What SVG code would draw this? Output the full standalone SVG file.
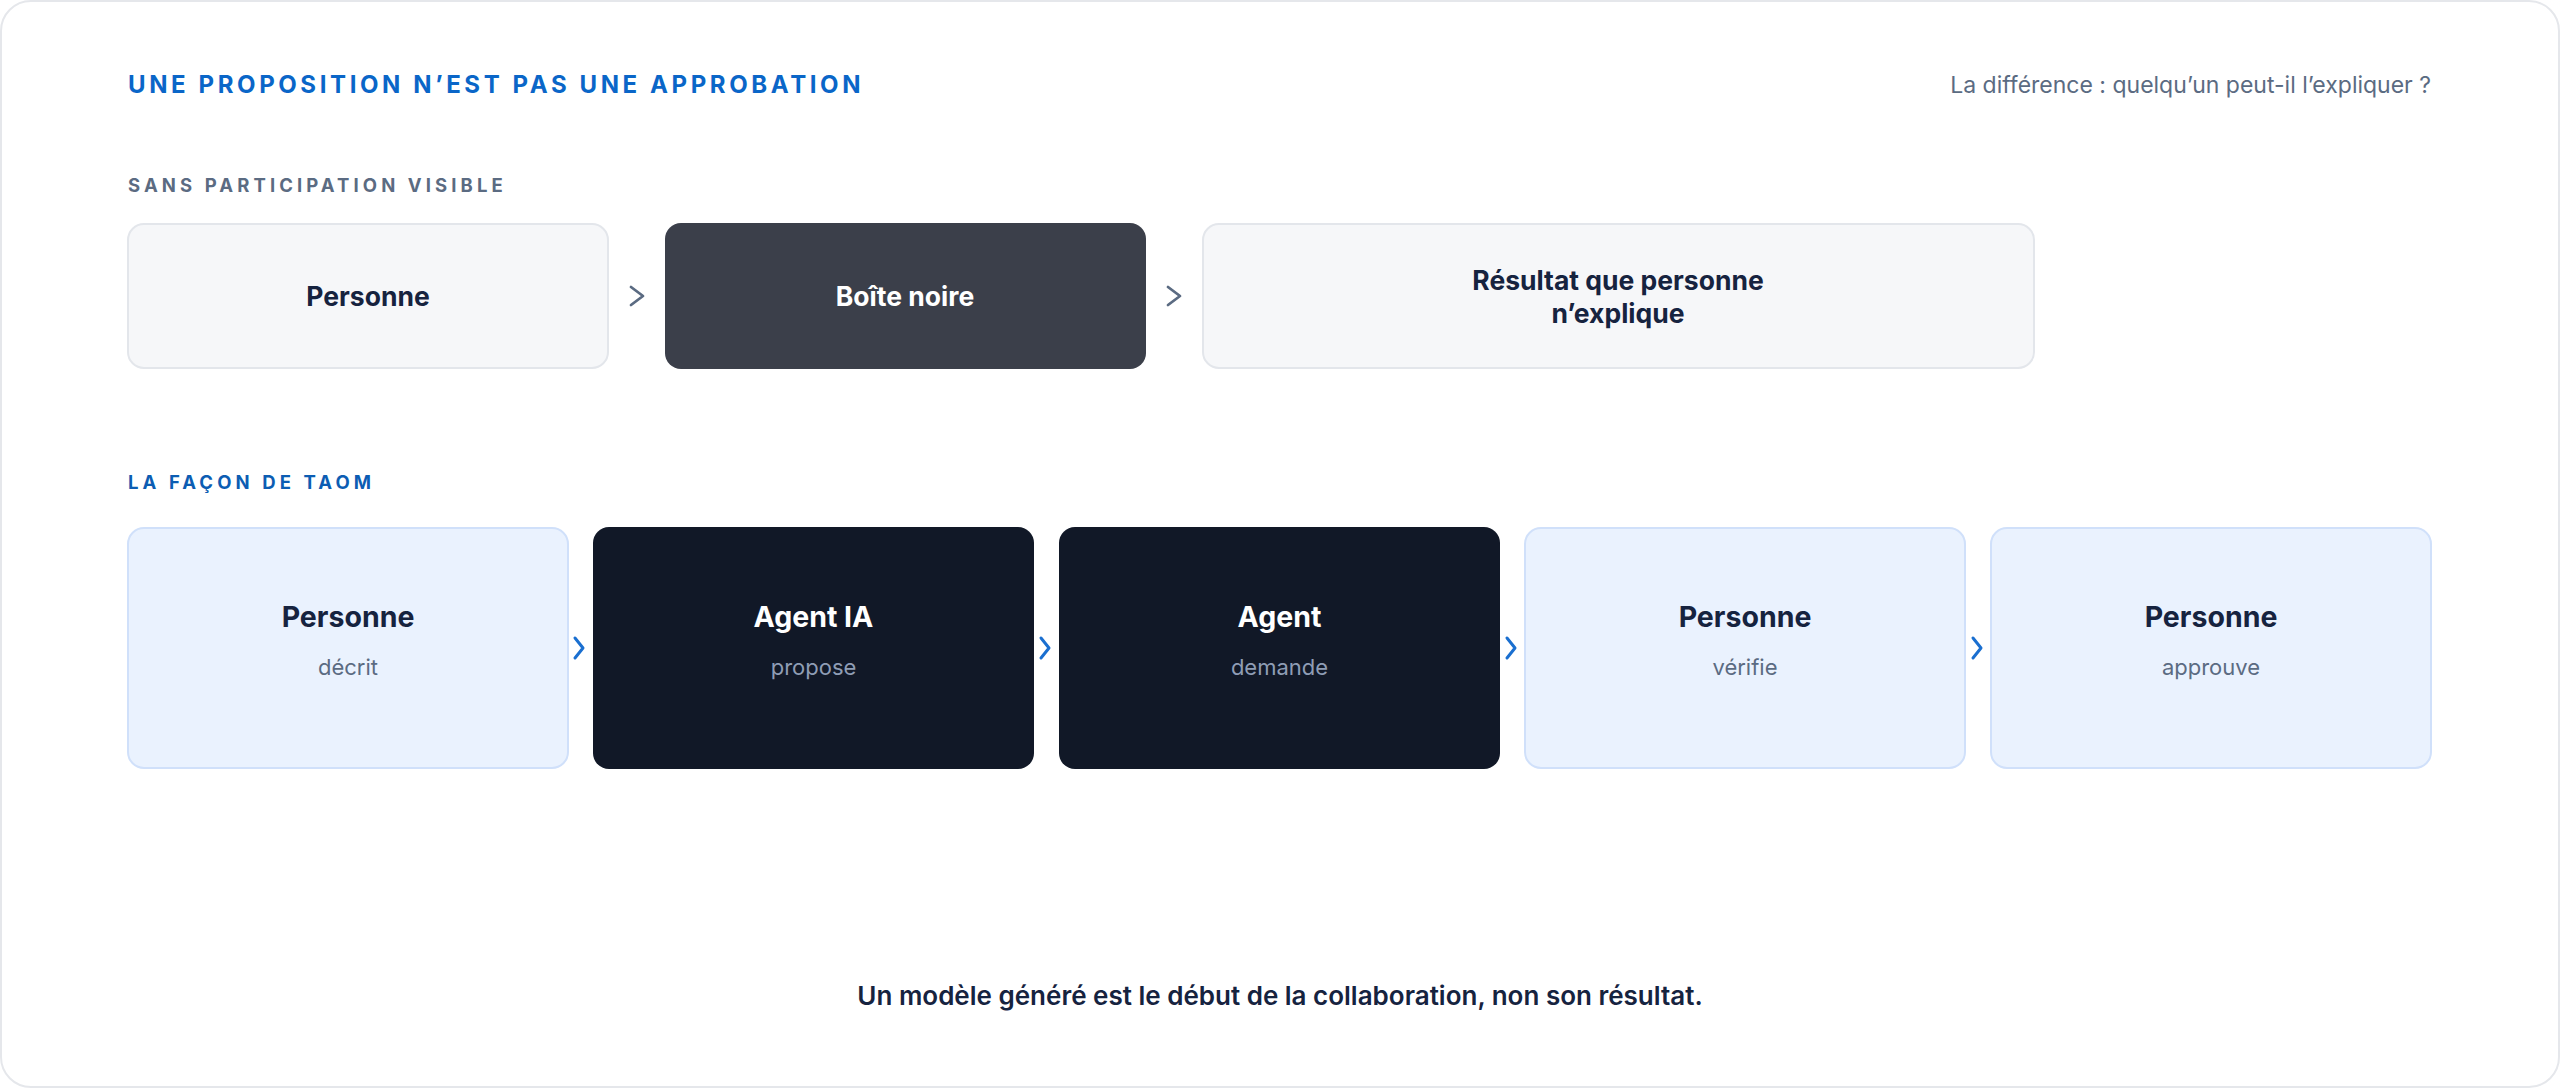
<svg xmlns="http://www.w3.org/2000/svg" width="2560" height="1088" viewBox="0 0 2560 1088">
  <style>
    text { font-family: Inter, "Noto Sans", "Liberation Sans", sans-serif; }
    .title { font-size: 24px; font-weight: 700; fill: #0a66c8; letter-spacing: 3.6px; }
    .aside { font-size: 23px; font-weight: 400; fill: #5b6b82; }
    .sec { font-size: 18.5px; font-weight: 700; letter-spacing: 4.1px; }
    .sec-gray { fill: #5b6b82; }
    .sec-blue { fill: #0c5db3; }
    .box-light { fill: #f6f7f9; stroke: #e3e6eb; stroke-width: 2; }
    .box-mid { fill: #3b3f4a; }
    .box-blue { fill: #eaf2fe; stroke: #d0e0fa; stroke-width: 2; }
    .box-dark { fill: #111827; }
    .lbl { font-size: 26.5px; font-weight: 700; text-anchor: middle; }
    .lbl2 { font-size: 28.5px; font-weight: 700; text-anchor: middle; }
    .t-dark { fill: #16233f; }
    .t-white { fill: #ffffff; }
    .sub { font-size: 22px; font-weight: 400; text-anchor: middle; }
    .sub-light { fill: #5b6b82; }
    .sub-dark { fill: #8f9db5; }
    .chev-gray { fill: none; stroke: #5b6b82; stroke-width: 2.8; stroke-linecap: round; stroke-linejoin: round; }
    .chev-blue { fill: none; stroke: #1a6fd0; stroke-width: 3; stroke-linecap: round; stroke-linejoin: round; }
    .foot { font-size: 26px; font-weight: 600; fill: #16233f; text-anchor: middle; }
  </style>

  <rect x="1" y="1" width="2558" height="1086" rx="30" fill="#ffffff" stroke="#e5e7eb" stroke-width="2"/>

  <text class="title" x="128" y="93">UNE PROPOSITION N’EST PAS UNE APPROBATION</text>
  <text class="aside" x="2431" y="93" text-anchor="end">La différence : quelqu’un peut-il l’expliquer ?</text>

  <text class="sec sec-gray" x="128" y="192">SANS PARTICIPATION VISIBLE</text>

  <g id="row1-personne">
    <rect class="box-light" x="128" y="224" width="480" height="144" rx="16"/>
    <text class="lbl t-dark" x="368" y="306">Personne</text>
  </g>
  <g id="row1-boite">
    <rect class="box-mid" x="665" y="223" width="481" height="146" rx="16"/>
    <text class="lbl t-white" x="905" y="306">Boîte noire</text>
  </g>
  <g id="row1-resultat">
    <rect class="box-light" x="1203" y="224" width="831" height="144" rx="16"/>
    <text class="lbl t-dark" x="1618" y="290">Résultat que personne</text>
    <text class="lbl t-dark" x="1618" y="323">n’explique</text>
  </g>

  <text class="sec sec-blue" x="128" y="489">LA FAÇON DE TAOM</text>

  <g id="row2-personne-decrit">
    <rect class="box-blue" x="128" y="528" width="440" height="240" rx="16"/>
    <text class="lbl2 t-dark" x="348" y="627">Personne</text>
    <text class="sub sub-light" x="348" y="675">décrit</text>
  </g>
  <g id="row2-agent-ia">
    <rect class="box-dark" x="593" y="527" width="441" height="242" rx="16"/>
    <text class="lbl2 t-white" x="813.5" y="627">Agent IA</text>
    <text class="sub sub-dark" x="813.5" y="675">propose</text>
  </g>
  <g id="row2-agent">
    <rect class="box-dark" x="1059" y="527" width="441" height="242" rx="16"/>
    <text class="lbl2 t-white" x="1279.5" y="627">Agent</text>
    <text class="sub sub-dark" x="1279.5" y="675">demande</text>
  </g>
  <g id="row2-personne-verifie">
    <rect class="box-blue" x="1525" y="528" width="440" height="240" rx="16"/>
    <text class="lbl2 t-dark" x="1745" y="627">Personne</text>
    <text class="sub sub-light" x="1745" y="675">vérifie</text>
  </g>
  <g id="row2-personne-approuve">
    <rect class="box-blue" x="1991" y="528" width="440" height="240" rx="16"/>
    <text class="lbl2 t-dark" x="2211" y="627">Personne</text>
    <text class="sub sub-light" x="2211" y="675">approuve</text>
  </g>

  <g id="connectors">
    <polyline class="chev-gray" points="631,287 643,296 631,305"/>
    <polyline class="chev-gray" points="1168,287 1180,296 1168,305"/>
    <polyline class="chev-blue" points="575,638 583,648 575,658"/>
    <polyline class="chev-blue" points="1041,638 1049,648 1041,658"/>
    <polyline class="chev-blue" points="1507,638 1515,648 1507,658"/>
    <polyline class="chev-blue" points="1973,638 1981,648 1973,658"/>
  </g>

  <text class="foot" x="1280" y="1005">Un modèle généré est le début de la collaboration, non son résultat.</text>
</svg>
